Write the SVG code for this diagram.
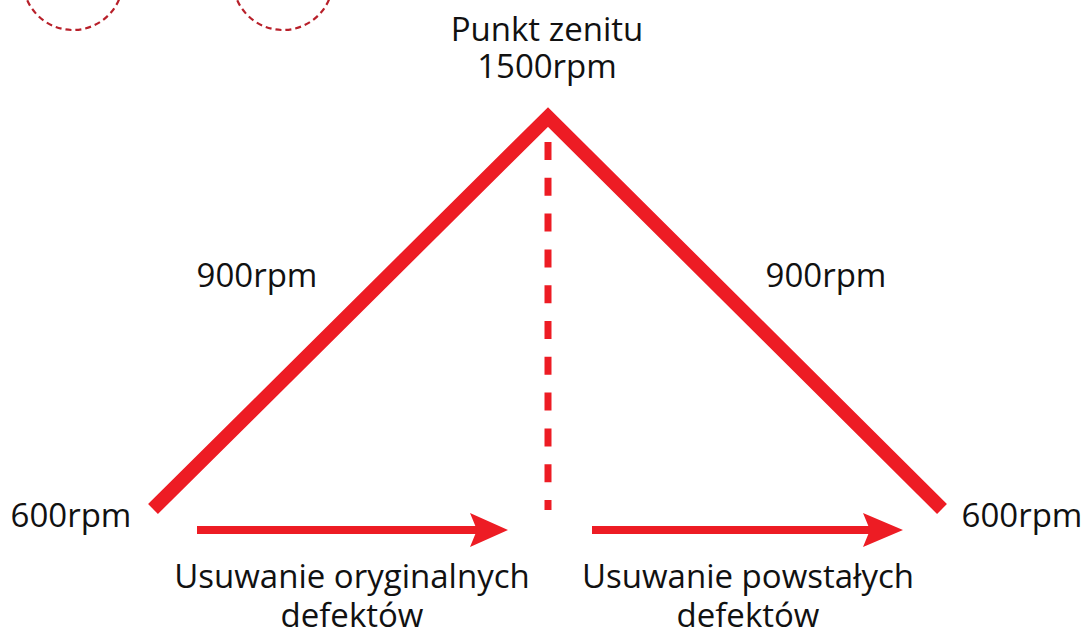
<svg xmlns="http://www.w3.org/2000/svg" width="1090" height="637" viewBox="0 0 1090 637">
<style>
.t{font-family:"Open Sans","Liberation Sans",sans-serif;font-size:33px;fill:#111}
.red{fill:#ed1c24}
.circ{fill:none;stroke:#b8202a;stroke-width:2.2;stroke-dasharray:6 4}
</style>
<rect width="1090" height="637" fill="#fff"/>
<g id="decor">
<circle class="circ" cx="73" cy="-20" r="50"/>
<circle class="circ" cx="283" cy="-20" r="50"/>
</g>
<g id="connectors">
<polyline points="153,509 548,117 942,509" fill="none" stroke="#ed1c24" stroke-width="14" stroke-linejoin="miter" stroke-miterlimit="10"/>
<line x1="548" y1="142" x2="548" y2="510" stroke="#ed1c24" stroke-width="7" stroke-dasharray="18 17.8"/>
<rect class="red" x="197" y="526" width="280" height="8"/>
<polygon class="red" points="470,513 508,530 470,547 477,530"/>
<rect class="red" x="592" y="526" width="278" height="8"/>
<polygon class="red" points="863,513 903,530 863,547 870,530"/>
</g>
<g id="zenith"><text class="t" x="547" y="41" text-anchor="middle">Punkt zenitu</text><text class="t" x="547" y="78" text-anchor="middle">1500rpm</text></g>
<g id="left900"><text class="t" x="257" y="287" text-anchor="middle">900rpm</text></g>
<g id="right900"><text class="t" x="826" y="287" text-anchor="middle">900rpm</text></g>
<g id="left600"><text class="t" x="71" y="527" text-anchor="middle">600rpm</text></g>
<g id="right600"><text class="t" x="1022" y="527" text-anchor="middle">600rpm</text></g>
<g id="labelLeft"><text class="t" x="352" y="588" text-anchor="middle">Usuwanie oryginalnych</text><text class="t" x="352" y="627" text-anchor="middle">defektów</text></g>
<g id="labelRight"><text class="t" x="748" y="588" text-anchor="middle">Usuwanie powstałych</text><text class="t" x="748" y="627" text-anchor="middle">defektów</text></g>
</svg>
